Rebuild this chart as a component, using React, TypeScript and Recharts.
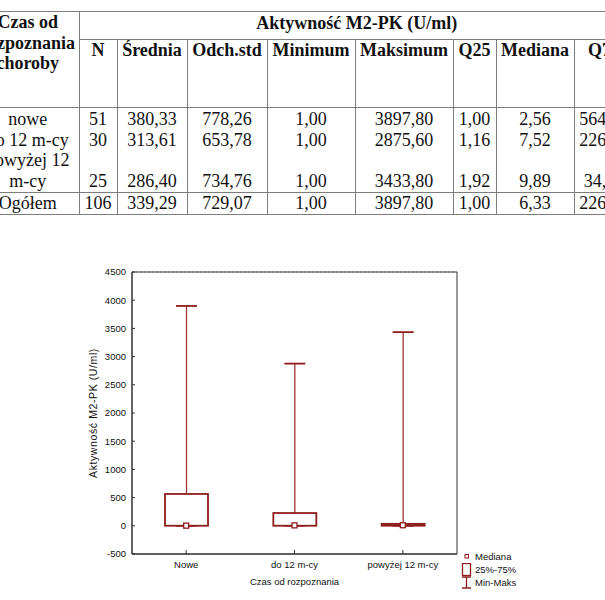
import React from 'react';
import { ComposedChart, Bar, Scatter, XAxis, YAxis, CartesianGrid, Legend, ReferenceArea } from 'recharts';

// ---------- table data ----------
const tableHeaders = ['N', 'Średnia', 'Odch.std', 'Minimum', 'Maksimum', 'Q25', 'Mediana', 'Q75'];
const rowLabelLines = [['nowe'], ['do 12 m-cy'], ['powyżej 12', 'm-cy']];
const nVals = [51, 30, 25];
const meanVals = [380.33, 313.61, 286.4];
const sdVals = [778.26, 653.78, 734.76];
const minVals = [1.0, 1.0, 1.0];
const maxVals = [3897.8, 2875.6, 3433.8];
const q25Vals = [1.0, 1.16, 1.92];
const medianVals = [2.56, 7.52, 9.89];
const q75Vals = [564.5, 226.4, 34.5];
const totalVals = [106, 339.29, 729.07, 1.0, 3897.8, 1.0, 6.33, 226.4];
const colDecimals = [0, 2, 2, 2, 2, 2, 2, 2];

// ---------- chart data ----------
const groups = ['Nowe', 'do 12 m-cy', 'powyżej 12 m-cy'];
const yTicks = [-500, 0, 500, 1000, 1500, 2000, 2500, 3000, 3500, 4000, 4500];
const legendLabels = ['Mediana', '25%-75%', 'Min-Maks'];

const chartData = groups.map((label, i) => ({
  label,
  min: minVals[i],
  max: maxVals[i],
  q25: q25Vals[i],
  median: medianVals[i],
  q75: q75Vals[i],
}));

const RED = '#8f1c1c';
const WHISKER = '#a13535';
const AXIS = '#333';
const SANS = '"Liberation Sans", Arial, sans-serif';
const SERIF = '"Liberation Serif", "Times New Roman", serif';
const LINE = '1px solid #7d7d7d';
const colWidths = [102, 38, 70, 80, 88, 98, 43, 78, 60];

const fmt = (v: number, d: number) => v.toFixed(d).replace('.', ',');

const columns = [nVals, meanVals, sdVals, minVals, maxVals, q25Vals, medianVals, q75Vals];

function buildLines(colIdx: number): string[] {
  const out: string[] = [];
  rowLabelLines.forEach((lines, r) => {
    for (let k = 0; k < lines.length - 1; k++) out.push('\u00a0');
    out.push(fmt(columns[colIdx][r], colDecimals[colIdx]));
  });
  return out;
}

const labelLines = rowLabelLines.flat();

const withBreaks = (lines: string[]) =>
  lines.map((l, i) => (
    <React.Fragment key={i}>
      {l}
      {i < lines.length - 1 ? <br /> : null}
    </React.Fragment>
  ));

function DataTable() {
  const base: React.CSSProperties = { padding: 0, textAlign: 'center', verticalAlign: 'top', overflow: 'hidden', whiteSpace: 'nowrap' };
  return (
    <table
      style={{
        position: 'absolute',
        left: -23,
        top: 11,
        borderCollapse: 'collapse',
        tableLayout: 'fixed',
        width: colWidths.reduce((a, b) => a + b, 0),
        fontFamily: SERIF,
        fontSize: 18,
        color: '#111',
        lineHeight: '20.7px',
      }}
    >
      <colgroup>
        {colWidths.map((w, i) => (
          <col key={i} style={{ width: w }} />
        ))}
      </colgroup>
      <tbody>
        <tr style={{ height: 28 }}>
          <td rowSpan={2} style={{ ...base, fontWeight: 'bold', borderTop: LINE, borderRight: LINE, borderBottom: LINE }}>
            Czas od<br />rozpoznania<br />choroby
          </td>
          <td colSpan={8} style={{ ...base, fontWeight: 'bold', borderTop: LINE, borderBottom: LINE, borderLeft: LINE, paddingTop: 1 }}>
            Aktywność M2-PK (U/ml)
          </td>
        </tr>
        <tr style={{ height: 68 }}>
          {tableHeaders.map((h, i) => (
            <td key={i} style={{ ...base, fontWeight: 'bold', border: LINE, whiteSpace: 'normal' }}>
              {h}
            </td>
          ))}
        </tr>
        <tr style={{ height: 84 }}>
          <td style={{ ...base, paddingTop: 1, borderRight: LINE, borderBottom: LINE }}>{withBreaks(labelLines)}</td>
          {tableHeaders.map((_, c) => (
            <td key={c} style={{ ...base, paddingTop: 1, border: LINE }}>
              {withBreaks(buildLines(c))}
            </td>
          ))}
        </tr>
        <tr style={{ height: 21 }}>
          <td style={{ ...base, verticalAlign: 'middle', borderRight: LINE, borderBottom: LINE }}>Ogółem</td>
          {totalVals.map((v, c) => (
            <td key={c} style={{ ...base, verticalAlign: 'middle', border: LINE }}>
              {fmt(v, colDecimals[c])}
            </td>
          ))}
        </tr>
      </tbody>
    </table>
  );
}

// ---------- chart shapes ----------
const WhiskerShape = (props: any) => {
  const { x, y, width, height } = props;
  if (x == null || y == null) return <g />;
  const cx = x + width / 2;
  return (
    <g>
      <line x1={cx} x2={cx} y1={y} y2={y + height} stroke={WHISKER} strokeWidth={1.3} />
      <line x1={x} x2={x + width} y1={y} y2={y} stroke={RED} strokeWidth={1.8} />
      <line x1={x} x2={x + width} y1={y + height} y2={y + height} stroke={RED} strokeWidth={1.8} />
    </g>
  );
};

const BoxShape = (props: any) => {
  const { x, y, width, height } = props;
  if (x == null || y == null) return <g />;
  return <rect x={x} y={y} width={width} height={Math.max(height, 0.5)} fill="#fff" stroke={RED} strokeWidth={1.8} />;
};

const MedianShape = (props: any) => {
  const { cx, cy } = props;
  if (cx == null || cy == null) return <g />;
  return <rect x={cx - 2.5} y={cy - 2.5} width={5} height={5} fill="#fff" stroke={RED} strokeWidth={1.3} />;
};

const EmptyTick = () => <g />;

const legendIcons = [
  <rect key="m" x={4} y={4.5} width={3.5} height={3.5} fill="#fff" stroke={RED} strokeWidth={1} />,
  <rect key="b" x={1.5} y={0.5} width={8} height={12} fill="#fff" stroke={RED} strokeWidth={1.3} />,
  <g key="w">
    <line x1={1} x2={10} y1={1} y2={1} stroke={RED} strokeWidth={1.5} />
    <line x1={5.5} x2={5.5} y1={1} y2={12} stroke={RED} strokeWidth={1.3} />
    <line x1={1} x2={10} y1={12} y2={12} stroke={RED} strokeWidth={1.5} />
  </g>,
];

const renderLegend = () => (
  <div style={{ fontFamily: SANS, fontSize: 9.5, color: '#111', lineHeight: '13px' }}>
    {legendLabels.map((l, i) => (
      <div key={i} style={{ display: 'flex', alignItems: 'center', height: 13 }}>
        <svg width={12} height={13} style={{ marginRight: 2 }}>
          {legendIcons[i]}
        </svg>
        <span>{l}</span>
      </div>
    ))}
  </div>
);

const axisLine = { stroke: AXIS, strokeWidth: 1 };
const tickLine = { stroke: AXIS, strokeWidth: 1 };
const tickFont = { fontFamily: SANS, fontSize: 9.5, fill: '#111' };

export default function App() {
  return (
    <div style={{ position: 'absolute', left: 0, top: 0, width: 605, height: 600, overflow: 'hidden', background: '#fff' }}>
      <DataTable />
      <div style={{ position: 'absolute', left: 0, top: 0 }}>
        <ComposedChart
          width={605}
          height={600}
          data={chartData}
          margin={{ top: 272, right: 148, bottom: 0, left: 0 }}
        >
          <CartesianGrid horizontal vertical={false} stroke="#b5b5b5" strokeDasharray="2 2" />
          <XAxis xAxisId="w" dataKey="label" hide height={0} />
          <XAxis xAxisId="b" dataKey="label" hide height={0} />
          <XAxis
            xAxisId="main"
            dataKey="label"
            height={46}
            axisLine={axisLine}
            tickLine={tickLine}
            tickSize={-4}
            tickMargin={11}
            tick={tickFont}
            interval={0}
            label={{ value: 'Czas od rozpoznania', position: 'insideBottom', offset: 15, style: tickFont }}
          />
          <XAxis xAxisId="top" orientation="top" dataKey="label" height={0} axisLine={axisLine} tickLine={tickLine} tickSize={-4} tick={EmptyTick} interval={0} />
          <YAxis
            yAxisId="l"
            width={132}
            domain={[-500, 4500]}
            ticks={yTicks}
            interval={0}
            axisLine={axisLine}
            tickLine={tickLine}
            tickSize={-3}
            tickMargin={9}
            tick={tickFont}
            label={{
              value: 'Aktywność M2-PK (U/ml)',
              angle: -90,
              position: 'insideLeft',
              offset: 93,
              style: { textAnchor: 'middle', fontFamily: SANS, fontSize: 10.5, fill: '#111', letterSpacing: 0.6 },
            }}
          />
          <YAxis yAxisId="r" orientation="right" width={0} domain={[-500, 4500]} ticks={yTicks} interval={0} axisLine={axisLine} tickLine={tickLine} tickSize={-4} tick={EmptyTick} />
          <ReferenceArea xAxisId="main" yAxisId="l" y1={-500} y2={4500} fill="none" stroke={AXIS} strokeWidth={1} ifOverflow="visible" />
          <Bar xAxisId="w" yAxisId="l" dataKey={(d: any) => [d.min, d.max]} barSize={21} shape={WhiskerShape} isAnimationActive={false} />
          <Bar xAxisId="b" yAxisId="l" dataKey={(d: any) => [d.q25, d.q75]} barSize={43} shape={BoxShape} isAnimationActive={false} />
          <Scatter xAxisId="main" yAxisId="l" dataKey="median" shape={MedianShape} isAnimationActive={false} />
          <Legend
            content={renderLegend}
            layout="vertical"
            align="center"
            verticalAlign="middle"
            wrapperStyle={{ left: 461, top: 550, width: 110 }}
          />
        </ComposedChart>
      </div>
    </div>
  );
}
